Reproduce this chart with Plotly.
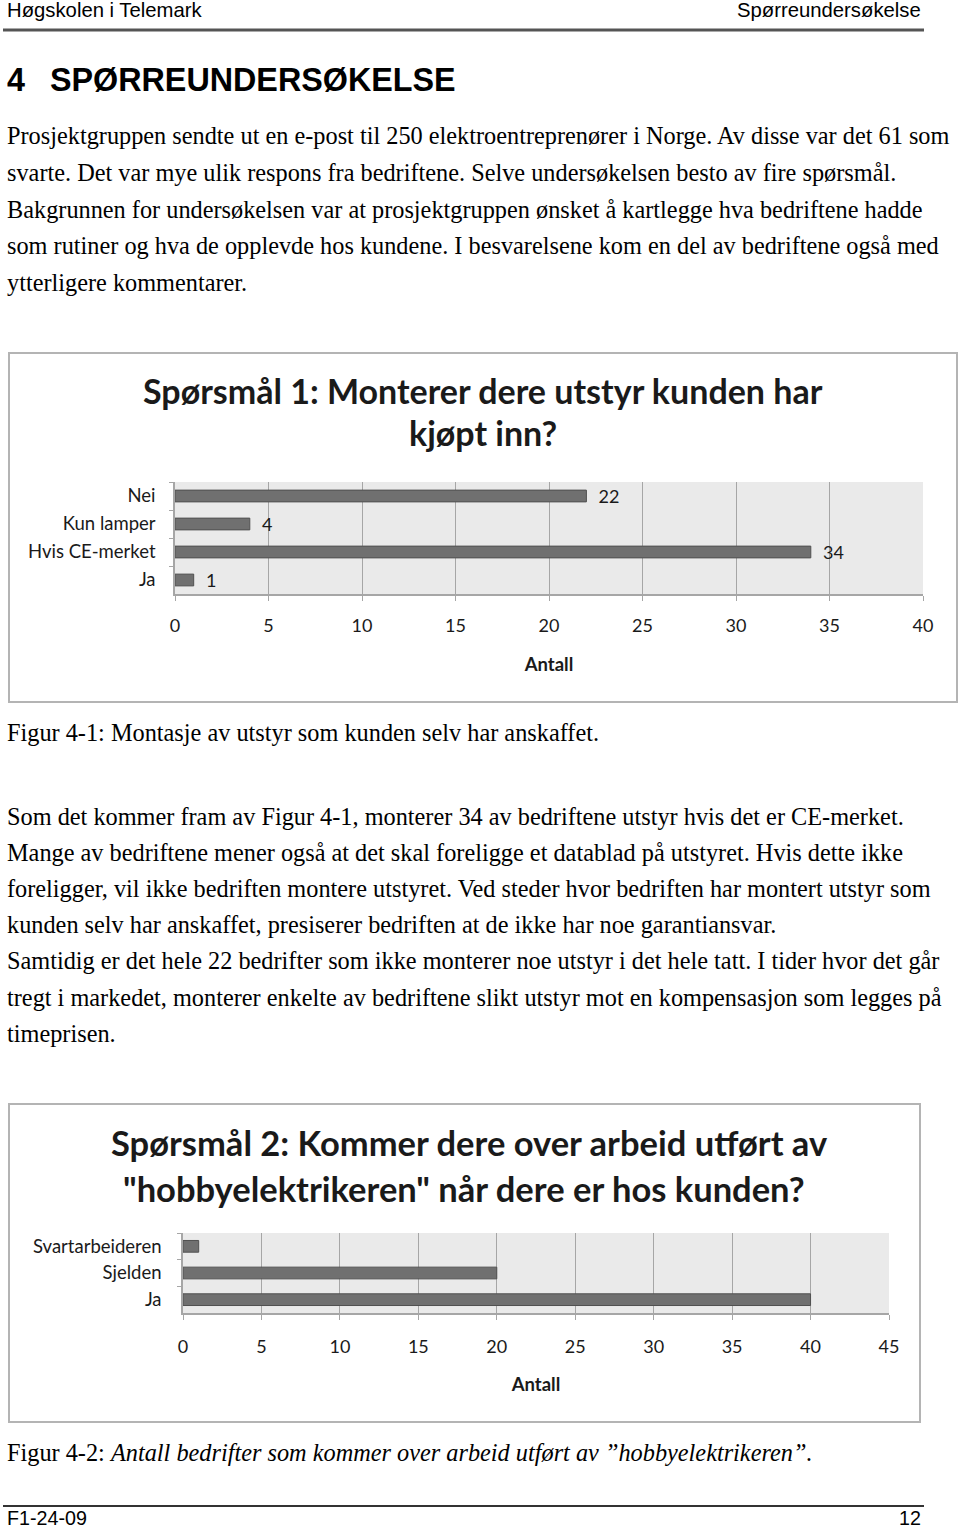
import plotly.graph_objects as go

W, H = 960, 1529      # target picture size
FIG_W = 975           # figure width (page is displayed so that W maps across the picture)
X_SHIFT = 5           # measured display offset

# ---------------- data ----------------
q1_categories = ["Nei", "Kun lamper", "Hvis CE-merket", "Ja"]
q1_values = [22, 4, 34, 1]
q1_xticks = [0, 5, 10, 15, 20, 25, 30, 35, 40]

q2_categories = ["Svartarbeideren", "Sjelden", "Ja"]
q2_values = [1, 20, 40]
q2_xticks = [0, 5, 10, 15, 20, 25, 30, 35, 40, 45]

q1_title = ["Spørsmål 1: Monterer dere utstyr kunden har", "kjøpt inn?"]
q2_title = ["Spørsmål 2: Kommer dere over arbeid utført av",
            "\"hobbyelektrikeren\" når dere er hos kunden?"]
axis_title = "Antall"

header_left = "Høgskolen i Telemark"
header_right = "Spørreundersøkelse"
heading_num = "4"
heading_text = "SPØRREUNDERSØKELSE"
para1 = [
    "Prosjektgruppen sendte ut en e-post til 250 elektroentreprenører i Norge. Av disse var det 61 som",
    "svarte. Det var mye ulik respons fra bedriftene. Selve undersøkelsen besto av fire spørsmål.",
    "Bakgrunnen for undersøkelsen var at prosjektgruppen ønsket å kartlegge hva bedriftene hadde",
    "som rutiner og hva de opplevde hos kundene. I besvarelsene kom en del av bedriftene også med",
    "ytterligere kommentarer.",
]
caption1 = "Figur 4-1: Montasje av utstyr som kunden selv har anskaffet."
para2 = [
    "Som det kommer fram av Figur 4-1, monterer 34 av bedriftene utstyr hvis det er CE-merket.",
    "Mange av bedriftene mener også at det skal foreligge et datablad på utstyret. Hvis dette ikke",
    "foreligger, vil ikke bedriften montere utstyret. Ved steder hvor bedriften har montert utstyr som",
    "kunden selv har anskaffet, presiserer bedriften at de ikke har noe garantiansvar.",
    "Samtidig er det hele 22 bedrifter som ikke monterer noe utstyr i det hele tatt. I tider hvor det går",
    "tregt i markedet, monterer enkelte av bedriftene slikt utstyr mot en kompensasjon som legges på",
    "timeprisen.",
]
caption2_plain = "Figur 4-2: "
caption2_italic = "Antall bedrifter som kommer over arbeid utført av ”hobbyelektrikeren”."
footer_left = "F1-24-09"
footer_right = "12"

# ---------------- styling ----------------
SERIF = "Liberation Serif, Times New Roman, serif"
SANS = "Liberation Sans, Arial, sans-serif"
CHART = "Lato, Open Sans, sans-serif"
BAR = "#707070"
BAR_LINE = "#505050"
GRID = "#A6A6A6"
PLOTBG = "#EAEAEA"
TXT = "#1a1a1a"
BODY = 24.3


def px(x):
    return (x - X_SHIFT) / W


def py(y):
    return 1 - y / H


fig = go.Figure()

fig.add_trace(go.Bar(
    x=q1_values, y=q1_categories, orientation="h",
    marker=dict(color=BAR, line=dict(color=BAR_LINE, width=1)),
    text=["\u00a0\u00a0" + str(v) for v in q1_values], textposition="outside",
    constraintext="none",
    textfont=dict(family=CHART, size=18, color=TXT),
    cliponaxis=False, xaxis="x", yaxis="y", showlegend=False,
))
fig.add_trace(go.Bar(
    x=q2_values, y=q2_categories, orientation="h",
    marker=dict(color=BAR, line=dict(color=BAR_LINE, width=1)),
    xaxis="x2", yaxis="y2", showlegend=False, width=0.44,
))

common_x = dict(
    showgrid=True, gridcolor=GRID, gridwidth=1, zeroline=False,
    showline=True, linecolor=GRID, linewidth=1.5,
    ticks="outside", ticklen=5, tickcolor=GRID,
    tickfont=dict(family=CHART, size=18, color=TXT),
    tickmode="array",
)
common_y = dict(
    type="category", autorange="reversed", showgrid=False, zeroline=False,
    showline=True, linecolor=GRID, linewidth=1.5,
    ticks="outside", ticklen=4, tickcolor=GRID, tickson="boundaries",
    tickfont=dict(family=CHART, size=18.5, color=TXT),
)


def xtitle(standoff):
    return dict(text="<b>" + axis_title + "</b>", font=dict(family=CHART, size=18.5, color=TXT), standoff=standoff)


fig.update_layout(
    width=FIG_W, height=H, autosize=False,
    margin=dict(l=0, r=0, t=0, b=0),
    paper_bgcolor="white",
    plot_bgcolor=PLOTBG,
    bargap=0.58,
    xaxis=dict(common_x, domain=[px(175), px(923)], range=[0, 40], tickvals=q1_xticks, anchor="y",
               ticklabelstandoff=10, title=xtitle(23)),
    yaxis=dict(common_y, domain=[py(594), py(482)], anchor="x", ticklabelstandoff=14),
    xaxis2=dict(common_x, domain=[px(183), px(889)], range=[0, 45], tickvals=q2_xticks, anchor="y2",
                ticklabelstandoff=12, title=xtitle(22)),
    yaxis2=dict(common_y, domain=[py(1313), py(1233)], anchor="x2", ticklabelstandoff=16),
    font=dict(family=CHART),
)

shapes = []
# chart borders
shapes.append(dict(type="rect", xref="paper", yref="paper", x0=px(9), x1=px(957), y0=py(702), y1=py(353),
                   line=dict(color="#B4B4B4", width=2), fillcolor="rgba(0,0,0,0)"))
shapes.append(dict(type="rect", xref="paper", yref="paper", x0=px(9), x1=px(920), y0=py(1422), y1=py(1104),
                   line=dict(color="#B4B4B4", width=2), fillcolor="rgba(0,0,0,0)"))
# header / footer rules
shapes.append(dict(type="line", xref="paper", yref="paper", x0=px(3), x1=px(924), y0=py(30), y1=py(30),
                   line=dict(color="#555555", width=3)))
shapes.append(dict(type="line", xref="paper", yref="paper", x0=px(3), x1=px(924), y0=py(1506), y1=py(1506),
                   line=dict(color="#333333", width=2)))
fig.update_layout(shapes=shapes)


def txt(x, y, s, size, family, anchor="left", color="#000000"):
    fig.add_annotation(x=px(x), y=py(y), xref="paper", yref="paper", text=s, showarrow=False,
                       xanchor=anchor, yanchor="middle", borderpad=0,
                       font=dict(size=size, family=family, color=color))


txt(6, 10, header_left, 20.3, SANS)
txt(922, 10, header_right, 20.3, SANS, anchor="right")
txt(6, 80, "<b>" + heading_num + "</b>", 32.3, SANS)
txt(49, 80, "<b>" + heading_text + "</b>", 32.3, SANS)

for i, line in enumerate(para1):
    txt(6, 136 + i * 36.5, line, BODY, SERIF)

txt(483, 390, "<b>" + q1_title[0] + "</b>", 34.0, CHART, anchor="center", color=TXT)
txt(483, 433, "<b>" + q1_title[1] + "</b>", 34.0, CHART, anchor="center", color=TXT)

txt(6, 733, caption1, BODY, SERIF)

for i, line in enumerate(para2):
    txt(6, 816 + i * 36.2, line, BODY, SERIF)

txt(469, 1142, "<b>" + q2_title[0] + "</b>", 34.5, CHART, anchor="center", color=TXT)
txt(464, 1188, "<b>" + q2_title[1] + "</b>", 34.5, CHART, anchor="center", color=TXT)

txt(6, 1452, caption2_plain + "<i>" + caption2_italic + "</i>", BODY, SERIF)

txt(6, 1518, footer_left, 19.7, SANS)
txt(922, 1518, footer_right, 19.7, SANS, anchor="right")

fig.write_html(
    "out.html",
    config={"responsive": False, "displayModeBar": False},
    post_script=("document.documentElement.style.margin='0';document.body.style.margin='0';"
                 "document.documentElement.style.overflow='hidden';document.body.style.overflow='hidden';"),
)
